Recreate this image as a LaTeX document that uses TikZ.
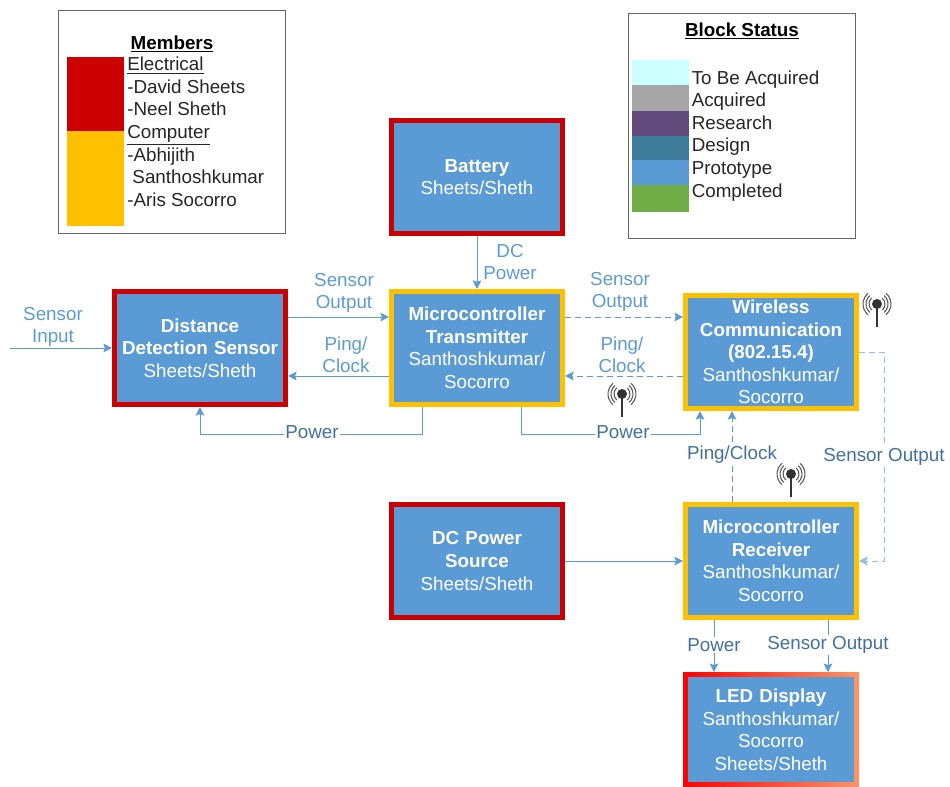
\documentclass[tikz,border=0pt]{standalone}
\usepackage{fontspec}
\setmainfont{Liberation Sans}
\usepackage{xcolor}
\definecolor{blockblue}{RGB}{91, 155, 213}
\definecolor{labeldark}{RGB}{65, 113, 156}
\definecolor{elecred}{RGB}{204, 0, 0}
\definecolor{compyellow}{RGB}{255, 192, 0}
\definecolor{acquirecyan}{RGB}{204, 255, 255}
\definecolor{acquiregray}{RGB}{165, 165, 165}
\definecolor{researchpurple}{RGB}{96, 74, 123}
\definecolor{designteal}{RGB}{64, 124, 156}
\definecolor{doneGreen}{RGB}{112, 173, 71}
\usetikzlibrary{arrows.meta, positioning, backgrounds}

\begin{document}
\begin{tikzpicture}[
    x=0.75pt, y=-0.75pt,
    every node/.style={font=\fontsize{14.1}{16.9}\selectfont},
    blockbox/.style={rectangle, fill=blockblue, line width=3.75pt, text=white,
                     minimum width=128.25pt, minimum height=84.75pt, inner sep=0pt,
                     text width=126pt, align=center},
    redbox/.style={blockbox, draw=elecred},
    yellowbox/.style={blockbox, draw=compyellow},
    legendbox/.style={rectangle, draw=black!60, line width=0.75pt, inner sep=0pt},
    legendtext/.style={inner sep=0pt, align=left, text=black!85, anchor=north west},
    legendtitle/.style={inner sep=0pt, font=\fontsize{14.1}{16.9}\selectfont\bfseries},
    swatch/.style={rectangle, inner sep=0pt, outer sep=0pt, minimum width=42.75pt},
    linklabel/.style={fill=white, inner sep=1pt, align=center, text=labeldark},
    lightlabel/.style={inner sep=0pt, align=center, text=blockblue},
    solidlink/.style={-{Stealth[length=6.5pt,width=6.5pt,inset=1.2pt]}, draw=blockblue, line width=0.7pt},
    dashlink/.style={solidlink, dash pattern=on 4.5pt off 3pt},
    antenna/.pic={
        \foreach \r in {8,11,14} {
            \draw[black!65, line width=0.8pt] (130:\r) arc[start angle=130, end angle=230, radius=\r];
            \draw[black!65, line width=0.8pt] (-50:\r) arc[start angle=-50, end angle=50, radius=\r];
        }
        \draw[black!80, line width=1.5pt] (0,0) -- (0,23);
        \fill[black!80] (0,0) circle (5);
    }
]
    \useasboundingbox (0,0) rectangle (950,787);

    % Members legend
    \node[legendbox, anchor=north west, minimum width=170.25pt, minimum height=167.25pt] (members) at (58,10.5) {};
    \node[swatch, anchor=north west, fill=elecred, minimum height=55.5pt] (swelec) at (67,57) {};
    \node[swatch, below=0pt of swelec, fill=compyellow, minimum height=71.25pt] (swcomp) {};
    \node[legendtitle] (memberstitle) at (172,44) {\underline{Members}};
    \node[legendtext] (memberslist) at (127,57) {\underline{Electrical}\\-David Sheets\\-Neel Sheth\\\underline{Computer}\\-Abhijith\\\ Santhoshkumar\\-Aris Socorro};

    % Status legend
    \node[legendbox, anchor=north west, minimum width=170.25pt, minimum height=168.75pt] (status) at (628,13.5) {};
    \node[legendtitle] (statustitle) at (742,31) {\underline{Block Status}};
    \node[swatch, anchor=north west, fill=acquirecyan, minimum height=18.75pt] (sw1) at (632,60) {};
    \node[swatch, below=0pt of sw1, fill=acquiregray, minimum height=19.5pt] (sw2) {};
    \node[swatch, below=0pt of sw2, fill=researchpurple, minimum height=18.75pt] (sw3) {};
    \node[swatch, below=0pt of sw3, fill=designteal, minimum height=18pt] (sw4) {};
    \node[swatch, below=0pt of sw4, fill=blockblue, minimum height=18.75pt] (sw5) {};
    \node[swatch, below=0pt of sw5, fill=doneGreen, minimum height=20.25pt] (sw6) {};
    \node[legendtext] (statuslist) at (691.5,70.5) {To Be Acquired\\Acquired\\Research\\Design\\Prototype\\Completed};

    % Blocks
    \node[redbox] (battery) at (477,177) {\textbf{Battery}\\Sheets/Sheth};
    \node[yellowbox, below=39.75pt of battery] (mcutx) {\textbf{Microcontroller}\\\textbf{Transmitter}\\Santhoshkumar/\\Socorro};
    \node[redbox, left=75.75pt of mcutx] (sensor) {\textbf{Distance}\\\textbf{Detection Sensor}\\Sheets/Sheth};
    \node[yellowbox, right=88.5pt of mcutx, yshift=-3pt] (wireless) {\textbf{Wireless}\\\textbf{Communication}\\\textbf{(802.15.4)}\\Santhoshkumar/\\Socorro};
    \node[yellowbox, below=68.25pt of wireless] (mcurx) {\textbf{Microcontroller}\\\textbf{Receiver}\\Santhoshkumar/\\Socorro};
    \node[redbox, left=88.5pt of mcurx] (dcsource) {\textbf{DC Power}\\\textbf{Source}\\Sheets/Sheth};
    \node[blockbox, below=41pt of mcurx, minimum width=124.5pt, text width=122pt, minimum height=78.75pt] (led) {\textbf{LED Display}\\Santhoshkumar/\\Socorro\\Sheets/Sheth};
    \begin{scope}[on background layer]
        \shade[left color=red, right color=orange!60!red!60!white]
            ([shift={(-2.5,-2.5)}]led.north west) rectangle ([shift={(2.5,2.5)}]led.south east);
    \end{scope}

    \coordinate (inputstart) at (10,348);

    % Solid connectors
    \draw[solidlink] (battery.south) -- (mcutx.north);
    \draw[solidlink] (inputstart) -- (sensor.west);
    \draw[solidlink] ([shift={(0,-31)}]sensor.east) -- ([shift={(0,-31)}]mcutx.west);
    \draw[solidlink] ([shift={(0,28)}]mcutx.west) -- ([shift={(0,28)}]sensor.east);
    \draw[solidlink] ([shift={(-55,0)}]mcutx.south) -- ++(0,27) -| (sensor.south);
    \draw[solidlink] ([shift={(44,0)}]mcutx.south) -- ++(0,27) -| ([shift={(-71,0)}]wireless.south);
    \draw[solidlink] (dcsource.east) -- (mcurx.west);
    \draw[solidlink] ([shift={(-57,0)}]mcurx.south) -- ([shift={(-57,-2.5)}]led.north);
    \draw[solidlink] ([shift={(57,0)}]mcurx.south) -- ([shift={(57,-2.5)}]led.north);

    % Dashed connectors
    \draw[dashlink] ([shift={(0,-31)}]mcutx.east) -- ([shift={(0,-35)}]wireless.west);
    \draw[dashlink] ([shift={(0,24)}]wireless.west) -- ([shift={(0,28)}]mcutx.east);
    \draw[dashlink] ([shift={(-39,0)}]mcurx.north) -- ([shift={(-39,0)}]wireless.south);
    \draw[dashlink, draw=blockblue!65] (wireless.east) -- ++(25,0) |- (mcurx.east);

    % Connector labels
    \node[lightlabel] (lblinput) at (53,327) {Sensor\\Input};
    \node[lightlabel] (lblsensortx) at (344,293) {Sensor\\Output};
    \node[lightlabel] (lblpingtx) at (346,355) {Ping/\\Clock};
    \node[lightlabel] (lbldc) at (510,262) {DC\\Power};
    \node[lightlabel] (lblsensorw) at (620,292) {Sensor\\Output};
    \node[lightlabel] (lblpingw) at (622,355) {Ping/\\Clock};
    \node[linklabel] (lblpowera) at (312,432) {Power};
    \node[linklabel] (lblpowerb) at (623,432) {Power};
    \node[linklabel] (lblpingrx) at (732,455) {Ping/Clock};
    \node[linklabel] (lblsensorrx) at (884,457) {Sensor Output};
    \node[linklabel] (lblpowerc) at (714,645) {Power};
    \node[linklabel] (lblsensorled) at (828,645) {Sensor Output};

    % Antennas
    \pic at (877,304) {antenna};
    \pic at (622,394) {antenna};
    \pic at (791,474) {antenna};
\end{tikzpicture}
\end{document}
